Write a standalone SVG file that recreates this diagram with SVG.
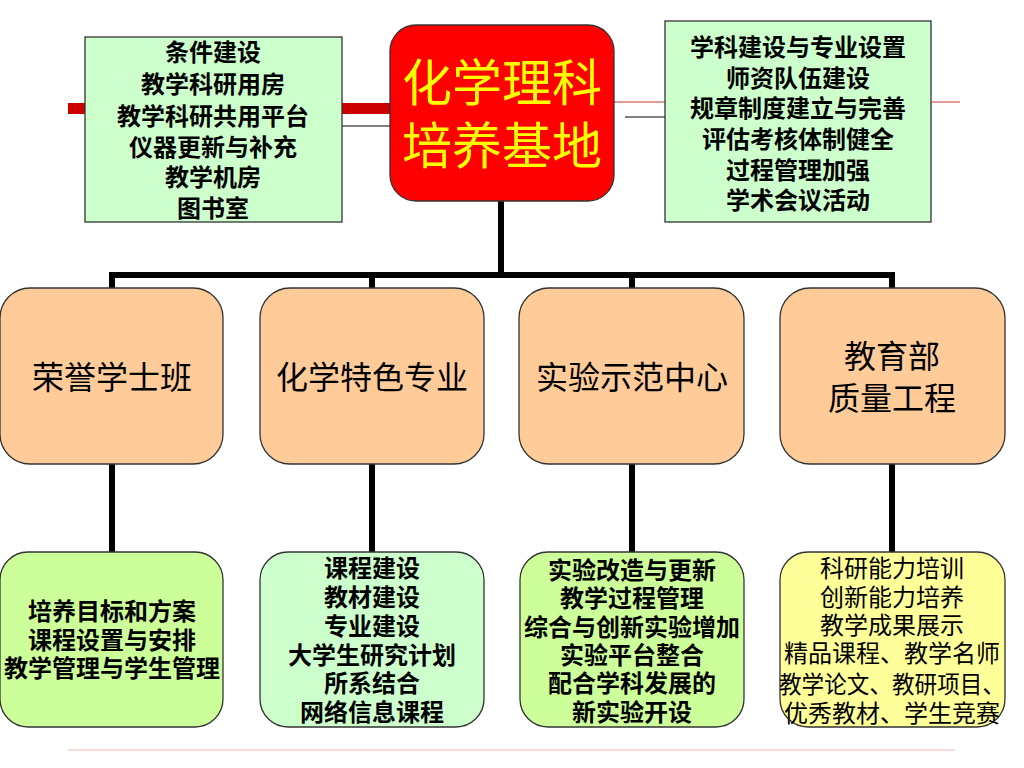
<svg xmlns="http://www.w3.org/2000/svg" width="1024" height="768" viewBox="0 0 1024 768">
<style>
text{font-family:"Noto Sans CJK SC","Liberation Sans",sans-serif;text-anchor:middle;fill:#000}
.t{font-size:24px;font-weight:bold}
.n{font-size:24px}
.big{font-size:32px}
.title{font-size:50px;fill:#ffff00}
.box{stroke:#333;stroke-width:1.3}
.conn{stroke:#000;stroke-width:6;fill:none}
</style>
<rect width="1024" height="768" fill="#fff"/>
<g id="decor">
<rect x="68" y="103" width="322" height="11" fill="#cc0000"/>
<line x1="342" y1="126" x2="390" y2="126" stroke="#555" stroke-width="1.5"/>
<line x1="614" y1="102" x2="960" y2="102" stroke="#cc3333" stroke-width="1"/>
<line x1="625" y1="117" x2="665" y2="117" stroke="#555" stroke-width="1.5"/>
<line x1="68" y1="750" x2="955" y2="750" stroke="#f0b8b8" stroke-width="1"/>
</g>
<g id="connectors">
<path class="conn" d="M501 200 V275 M109 275 H895 M112 275 V290 M372 275 V290 M632 275 V290 M892 275 V290"/>
<path class="conn" d="M112 464 V553 M372 464 V553 M632 464 V553 M892 464 V553"/>
</g>
<g id="center">
<rect class="box" x="390" y="25" width="224" height="176" rx="26" fill="#ff0000"/>
<text class="title" x="502" y="101">化学理科</text>
<text class="title" x="502" y="164">培养基地</text>
</g>
<g id="top-left">
<rect class="box" x="85" y="37" width="257" height="185" fill="#ccffcc"/>
<text class="t" x="213" y="61">条件建设</text>
<text class="t" x="213" y="93">教学科研用房</text>
<text class="t" x="213" y="125">教学科研共用平台</text>
<text class="t" x="213" y="156">仪器更新与补充</text>
<text class="t" x="213" y="186">教学机房</text>
<text class="t" x="213" y="217">图书室</text>
</g>
<g id="top-right">
<rect class="box" x="665" y="21" width="266" height="201" fill="#ccffcc"/>
<text class="t" x="798" y="56">学科建设与专业设置</text>
<text class="t" x="798" y="87">师资队伍建设</text>
<text class="t" x="798" y="117">规章制度建立与完善</text>
<text class="t" x="798" y="148">评估考核体制健全</text>
<text class="t" x="798" y="179">过程管理加强</text>
<text class="t" x="798" y="209">学术会议活动</text>
</g>
<g id="honors">
<rect class="box" x="0" y="288" width="223" height="176" rx="30" fill="#ffcc99"/>
<text class="big" x="112" y="389">荣誉学士班</text>
</g>
<g id="major">
<rect class="box" x="260" y="288" width="224" height="176" rx="30" fill="#ffcc99"/>
<text class="big" x="372" y="389">化学特色专业</text>
</g>
<g id="lab">
<rect class="box" x="519" y="288" width="225" height="176" rx="30" fill="#ffcc99"/>
<text class="big" x="632" y="389">实验示范中心</text>
</g>
<g id="moe">
<rect class="box" x="780" y="288" width="225" height="176" rx="30" fill="#ffcc99"/>
<text class="big" x="892" y="368">教育部</text>
<text class="big" x="892" y="410">质量工程</text>
</g>
<g id="honors-detail">
<rect class="box" x="0" y="552" width="223" height="175" rx="28" fill="#ccff99"/>
<text class="t" x="112" y="620">培养目标和方案</text>
<text class="t" x="112" y="649">课程设置与安排</text>
<text class="t" x="112" y="677">教学管理与学生管理</text>
</g>
<g id="major-detail">
<rect class="box" x="260" y="552" width="224" height="175" rx="28" fill="#ccffcc"/>
<text class="t" x="372" y="577">课程建设</text>
<text class="t" x="372" y="606">教材建设</text>
<text class="t" x="372" y="635">专业建设</text>
<text class="t" x="372" y="664">大学生研究计划</text>
<text class="t" x="372" y="692">所系结合</text>
<text class="t" x="372" y="721">网络信息课程</text>
</g>
<g id="lab-detail">
<rect class="box" x="520" y="552" width="224" height="175" rx="28" fill="#ccff99"/>
<text class="t" x="632" y="579">实验改造与更新</text>
<text class="t" x="632" y="607">教学过程管理</text>
<text class="t" x="632" y="636">综合与创新实验增加</text>
<text class="t" x="632" y="664">实验平台整合</text>
<text class="t" x="632" y="692">配合学科发展的</text>
<text class="t" x="632" y="721">新实验开设</text>
</g>
<g id="moe-detail">
<rect class="box" x="780" y="552" width="225" height="175" rx="28" fill="#ffff99"/>
<text class="n" x="892" y="577">科研能力培训</text>
<text class="n" x="892" y="606">创新能力培养</text>
<text class="n" x="892" y="634">教学成果展示</text>
<text class="n" x="892" y="662">精品课程、教学名师</text>
<text class="n" x="892" y="693" textLength="226" lengthAdjust="spacingAndGlyphs">教学论文、教研项目、</text>
<text class="n" x="892" y="722">优秀教材、学生竞赛</text>
</g>
</svg>
